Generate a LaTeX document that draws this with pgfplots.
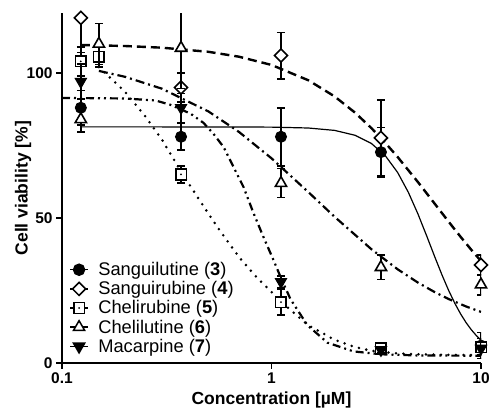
\documentclass[border=0pt]{standalone}
\usepackage{fontspec}
\setmainfont{Liberation Sans}
\usepackage{pgfplots}
\pgfplotsset{compat=1.18}

% open square with a dot in the middle
\pgfdeclareplotmark{sqdot}{%
  \pgfpathrectangle{\pgfpoint{-\pgfplotmarksize}{-\pgfplotmarksize}}{\pgfpoint{2\pgfplotmarksize}{2\pgfplotmarksize}}%
  \pgfusepathqfillstroke
  \begin{pgfscope}
  \pgfsetfillcolor{black}%
  \pgfpathcircle{\pgfpointorigin}{1pt}%
  \pgfusepathqfill
  \end{pgfscope}
}

\pgfplotsset{
  mylegend/.style={legend image code/.code={%
    \draw[black,solid,line width=1.5pt] (0pt,0pt) -- (18pt,0pt);
    \draw[##1, every mark/.append style={line width=1.5pt}] plot coordinates {(9pt,0pt)};}},
  pts/.style={black, only marks, mylegend,
    error bars/y dir=both, error bars/y explicit,
    error bars/error bar style={line width=1.5pt, solid},
    error bars/error mark options={rotate=90, line width=1.5pt, mark size=4pt}},
}

\begin{document}
\begin{tikzpicture}
\begin{axis}[
  name=ax,
  scale only axis, width=419pt, height=349.5pt,
  xmode=log, xmin=0.1, xmax=10, ymin=0, ymax=120.5,
  axis lines=left, axis line style={-, line width=1.3pt},
  tick align=outside, major tick length=6pt,
  every tick/.style={black, line width=1.3pt},
  xtick={0.1,1,10}, xticklabels={0.1,1,10}, xminorticks=false,
  ytick={0,50,100}, yminorticks=false,
  /pgf/number format/assume math mode=true,
  ticklabel style={font=\bfseries\fontsize{15.5}{17}\selectfont},
  xlabel={Concentration [µM]}, ylabel={Cell viability [\%]},
  label style={font=\bfseries\fontsize{17.5}{19}\selectfont},
  xlabel style={at={(axis description cs:0.5,-0.106)}, anchor=center},
  ylabel style={at={(axis description cs:-0.093,0.5)}, anchor=center},
  clip mode=individual,
  legend style={at={(axis description cs:0.017,0.29)}, anchor=north west,
    draw=none, fill=none, inner sep=0pt,
    font=\fontsize{18.3}{20}\selectfont,
    nodes={inner sep=0.5pt}, row sep=3.4pt, column sep=9pt},
  legend cell align=left,
]
% fitted curves
\addplot[black, line width=1.2pt, forget plot] coordinates {
(0.123,81.4) (0.3,81.4) (0.6,81.39) (1,81.32) (1.5,81.02) (2,80.2) (2.5,78.53)
(3,75.67) (3.5,71.39) (4,65.69) (4.5,58.85) (5,51.39) (5.5,43.89) (6,36.82)
(6.5,30.51) (7,25.10) (7.5,20.58) (8,16.87) (8.5,13.85) (9,11.42) (9.5,9.46) (10,7.87)};
\addplot[black, line width=2.4pt, dash pattern=on 9pt off 5pt, forget plot] coordinates {
(0.123,109.65) (0.2,109.29) (0.3,108.71) (0.5,107.29) (0.7,105.6) (1,102.76)
(1.5,97.47) (2,91.92) (2.5,86.36) (3,80.97) (3.5,75.84) (4,71.02) (5,62.38)
(6,55) (7,48.75) (8,43.46) (9,38.98) (10,35.15)};
\addplot[black, line width=2.8pt, line cap=round, dash pattern=on 0pt off 7.5pt, forget plot] coordinates {
(0.15,102) (0.2,93.5) (0.25,85) (0.3,77) (0.37,66) (0.45,56.5) (0.55,47) (0.7,36.5)
(0.85,29.5) (1,24.5) (1.2,19) (1.5,13) (2,8) (2.5,5.5) (3,4.2) (4,3.3) (5,3) (7,2.8) (10,2.7)};
\addplot[black, line width=2.2pt, dash pattern=on 9pt off 4pt on 2pt off 4pt, forget plot] coordinates {
(0.15,100.7) (0.2,98.67) (0.3,94.57) (0.5,86.73) (0.7,79.65) (1,70.57) (1.5,58.91)
(2,50.42) (3,39.21) (4,32.31) (5,27.72) (6,24.47) (7,22.07) (8.5,19.47) (10,17.62)};
\addplot[black, line width=2.2pt, dash pattern=on 8pt off 4pt on 2pt off 4pt on 2pt off 4pt, forget plot] coordinates {
(0.1,91.4) (0.2,91.2) (0.28,90.5) (0.33,89) (0.41,86) (0.4735,82.8) (0.5287,79)
(0.59,74.5) (0.6585,67.6) (0.735,60.7) (0.8205,51.7) (0.9158,43.4) (1.022,35.5)
(1.104,29.7) (1.232,22) (1.485,13) (1.85,7) (2.46,4) (3.33,3) (5,2.6) (10,2.5)};

% measured points
\addplot[pts, mark=*, mark size=5.5pt, mark options={fill=black, line width=1pt, solid}] coordinates {
(0.123,88) +- (0,6) (0.37,78) +- (0,4.6) (1.11,78) +- (0,10) (3.33,72.7) +- (0,8.5) (10,6) +- (0,4.5)};
\addlegendentry{Sanguilutine (\textbf{3})}
\addplot[pts, mark=square*, mark size=4.6pt, mark options={rotate=45, fill=white, line width=1.6pt, solid}] coordinates {
(0.123,119) +- (0,12) (0.37,95) +- (0,5) (1.11,106) +- (0,8) (3.33,77.6) +- (0,13) (10,33.8) +- (0,3.4)};
\addlegendentry{Sanguirubine (\textbf{4})}
\addplot[pts, mark=sqdot, mark size=5.3pt, mark options={fill=white, line width=1.6pt, solid}] coordinates {
(0.123,104) +- (0,5) (0.15,105.5) +- (0,3.5) (0.37,65) +- (0,3) (1.11,21) +- (0,4.5) (3.33,5) +- (0,1.5) (10,5.5) +- (0,3)};
\addlegendentry{Chelirubine (\textbf{5})}
\addplot[pts, mark=triangle*, mark size=6.5pt, mark options={fill=white, line width=1.6pt, solid}] coordinates {
(0.123,84) +- (0,4.4) (0.15,110) +- (0,7) (0.37,108.6) +- (0,14) (1.11,62) +- (0,5) (3.33,33) +- (0,4.2) (10,27) +- (0,3.5)};
\addlegendentry{Chelilutine (\textbf{6})}
\addplot[pts, mark=triangle*, mark size=6.5pt, mark options={rotate=180, fill=black, line width=1pt, solid}] coordinates {
(0.123,97) +- (0,6) (0.37,88) +- (0,5) (1.11,28) +- (0,2) (3.33,4.5) +- (0,1) (10,5) +- (0,2)};
\addlegendentry{Macarpine (\textbf{7})}
\end{axis}
\pgfresetboundingbox
\path[use as bounding box] ([xshift=-62pt,yshift=-48pt]ax.south west) rectangle ([xshift=9pt,yshift=13.5pt]ax.north east);
\end{tikzpicture}
\end{document}
